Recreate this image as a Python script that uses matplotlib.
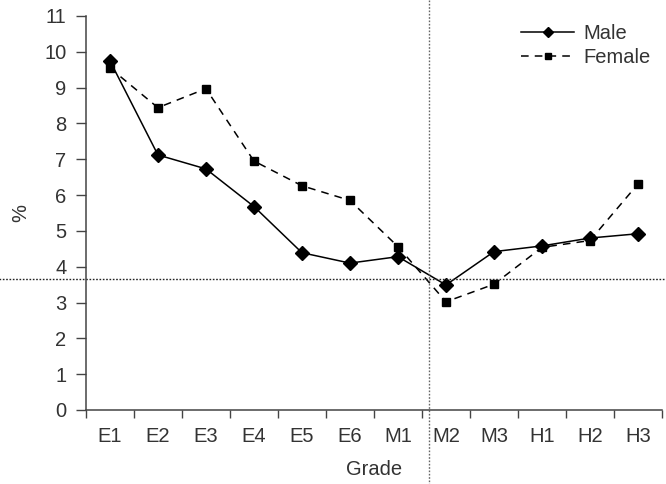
import matplotlib.pyplot as plt

plt.rcParams["font.family"] = ["Liberation Sans", "DejaVu Sans"]

grades = ["E1", "E2", "E3", "E4", "E5", "E6", "M1", "M2", "M3", "H1", "H2", "H3"]
male = [9.75, 7.12, 6.73, 5.68, 4.39, 4.10, 4.28, 3.49, 4.42, 4.58, 4.80, 4.92]
female = [9.55, 8.44, 8.97, 6.95, 6.26, 5.85, 4.56, 3.02, 3.51, 4.54, 4.73, 6.31]
ref_level = 3.66
split_pos = 6.65

TEXT = "#333333"
FS = 14.5

fig = plt.figure(figsize=(6.66, 4.84), dpi=100)
ax = fig.add_axes([0.129, 0.153, 0.865, 0.814])

x = list(range(len(grades)))
ax.plot(x, male, color="black", lw=1.1, marker="D", ms=7, label="Male")
ax.plot(x, female, color="black", lw=1.1, ls=(0, (5, 4)), marker="s", ms=6, label="Female")

ax.axhline(ref_level, xmin=-0.155, xmax=1.01, color="#222222", lw=1.0,
           ls=(0, (1.2, 1.2)), clip_on=False)
ax.axvline(split_pos, ymin=-0.19, ymax=1.045, color="#666666", lw=1.0,
           ls=(0, (1.2, 1.2)), clip_on=False)

ax.set_xlim(-0.5, len(grades) - 0.5)
ax.set_ylim(0, 11)
ax.set_yticks(range(0, 12))
ax.set_xticks([i - 0.5 for i in range(len(grades) + 1)])
ax.set_xticklabels([])
ax.set_xticks(x, minor=True)
ax.set_xticklabels(grades, minor=True)
ax.tick_params(axis="x", which="minor", length=0, pad=12, labelsize=FS, labelcolor=TEXT)
ax.tick_params(axis="x", which="major", length=6, width=1, color="#444444", direction="out")
ax.tick_params(axis="y", length=7, width=1, color="#444444", pad=7,
               labelsize=FS, labelcolor=TEXT)

for side in ["top", "right"]:
    ax.spines[side].set_visible(False)
for side in ["left", "bottom"]:
    ax.spines[side].set_color("#444444")
    ax.spines[side].set_linewidth(1.1)

ax.set_xlabel("Grade", fontsize=FS, color=TEXT, labelpad=10)
ax.set_ylabel("%", fontsize=FS, color=TEXT, labelpad=10)

ax.legend(loc="upper right", frameon=False, fontsize=FS, handlelength=2.6,
          handletextpad=0.5, borderaxespad=0.0, labelspacing=0.25,
          labelcolor=TEXT, bbox_to_anchor=(0.995, 1.0), markerscale=0.8)

fig.savefig("out.png", dpi=100)
